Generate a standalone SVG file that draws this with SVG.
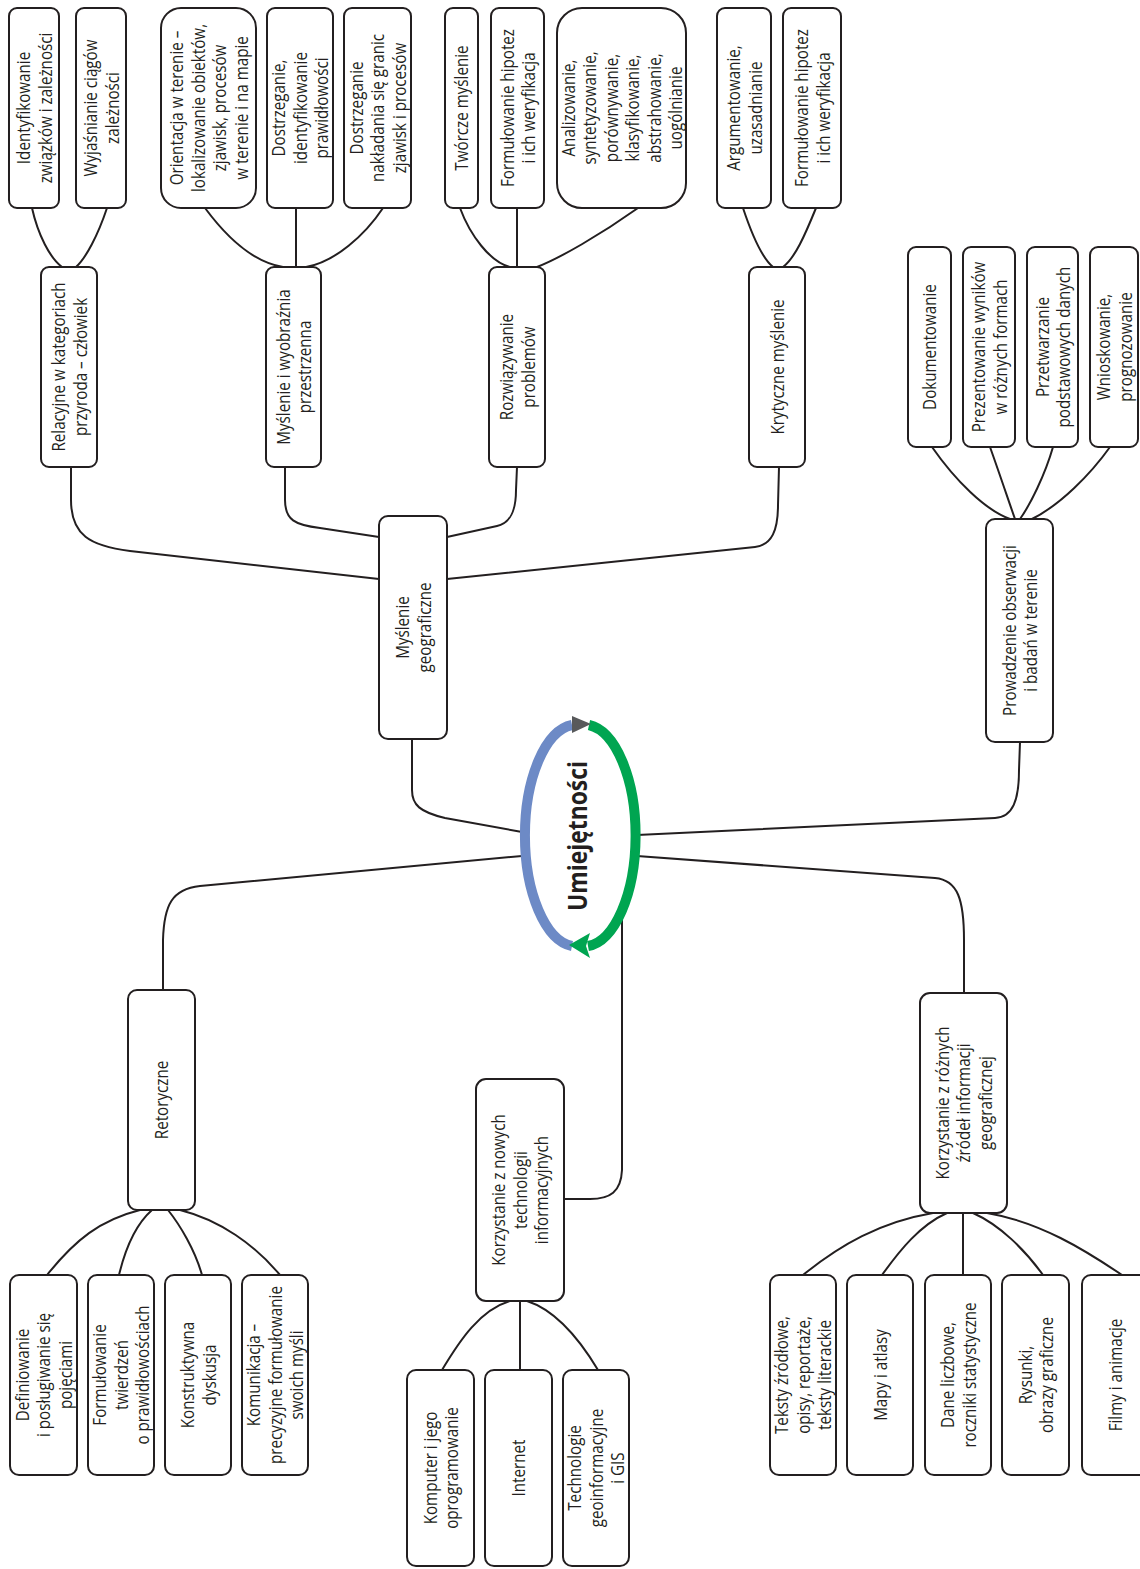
<svg xmlns="http://www.w3.org/2000/svg" width="1140" height="1569" viewBox="0 0 1140 1569">
  <style>
    .box { fill: #ffffff; stroke: #231f20; stroke-width: 2; }
    .link { fill: none; stroke: #231f20; stroke-width: 2; }
    .lbl { font-family: "Open Sans", "Noto Sans", "DejaVu Sans", sans-serif; font-size: 19px; fill: #231f20; text-anchor: middle; }
    .hub { font-family: "Open Sans", "Noto Sans", "DejaVu Sans", sans-serif; font-size: 26px; font-weight: bold; fill: #231f20; text-anchor: middle; }
  </style>
  <rect width="1140" height="1569" fill="#ffffff"/>

  <!-- connectors -->
  <g id="connectors">
    <!-- Relacyjne children -->
    <path class="link" d="M32,208 C38,235 50,258 62,267"/>
    <path class="link" d="M107,208 C98,235 86,258 76,267"/>
    <!-- Myślenie i wyobraźnia children -->
    <path class="link" d="M205,208 C225,235 252,262 283,267"/>
    <path class="link" d="M296,208 L296,267"/>
    <path class="link" d="M383,208 C365,235 335,262 306,267"/>
    <!-- Rozwiązywanie problemów children -->
    <path class="link" d="M460,208 C470,235 490,262 510,267"/>
    <path class="link" d="M517,208 L517,267"/>
    <path class="link" d="M638,208 C600,235 560,258 537,267"/>
    <!-- Krytyczne myślenie children -->
    <path class="link" d="M743,208 C752,235 762,258 773,267"/>
    <path class="link" d="M816,208 C805,235 795,258 783,267"/>
    <!-- Prowadzenie obserwacji children -->
    <path class="link" d="M932,447 C955,480 985,510 1010,519"/>
    <path class="link" d="M990,447 C1000,475 1010,505 1015,519"/>
    <path class="link" d="M1053,447 C1045,475 1030,505 1020,519"/>
    <path class="link" d="M1110,447 C1090,475 1060,505 1032,519"/>
    <!-- Retoryczne children -->
    <path class="link" d="M140,1210 C100,1220 75,1240 47,1275"/>
    <path class="link" d="M152,1210 C135,1225 125,1250 119,1275"/>
    <path class="link" d="M168,1210 C180,1225 195,1250 202,1275"/>
    <path class="link" d="M180,1210 C220,1220 255,1245 280,1275"/>
    <!-- Korzystanie z nowych technologii children -->
    <path class="link" d="M510,1301 C480,1310 460,1340 442,1370"/>
    <path class="link" d="M520,1301 L520,1370"/>
    <path class="link" d="M527,1301 C555,1310 580,1340 598,1370"/>
    <!-- Korzystanie z różnych źródeł children -->
    <path class="link" d="M933,1213 C880,1222 840,1245 803,1275"/>
    <path class="link" d="M947,1213 C920,1225 900,1250 882,1275"/>
    <path class="link" d="M963,1213 L963,1275"/>
    <path class="link" d="M973,1213 C1000,1225 1025,1250 1043,1275"/>
    <path class="link" d="M987,1213 C1040,1222 1085,1250 1122,1275"/>
    <!-- Myślenie geograficzne branches -->
    <path class="link" d="M71,467 L71,500 C71,535 90,546 130,551 L379,579"/>
    <path class="link" d="M285,467 L285,500 C285,520 295,525 320,528 L379,537"/>
    <path class="link" d="M447,537 L497,526 C510,523 516,512 516,490 L517,467"/>
    <path class="link" d="M447,579 L755,547 C772,545 778,530 778,505 L779,467"/>
    <!-- hub branches -->
    <path class="link" d="M412,739 L412,790 C412,805 420,812 445,818 L522,832"/>
    <path class="link" d="M522,856 L200,886 C172,889 164,905 163,940 L163,990"/>
    <path class="link" d="M637,835 L995,818 C1013,817 1019,800 1019,770 L1020,742"/>
    <path class="link" d="M637,856 L935,878 C958,880 964,900 964,940 L964,993"/>
    <path class="link" d="M622,910 L622,1170 C621,1192 610,1199 590,1199 L564,1199"/>
  </g>

  <!-- central hub -->
  <g id="hub-umiejetnosci">
    <path d="M572,946 A52,111 0 0 1 572,725" fill="none" stroke="#6d8ac6" stroke-width="10"/>
    <path d="M589,725 A52,111 0 0 1 588,946" fill="none" stroke="#00a551" stroke-width="10"/>
    <polygon points="572,716 572,733 591,724" fill="#58595b"/>
    <polygon points="569,945 590,933 586,946 590,958" fill="#00a551"/>
    <text class="hub" transform="translate(579.5,836) rotate(-90) scale(0.88,1)" y="7.5">Umiejętności</text>
  </g>

  <!-- Myślenie geograficzne -->
  <g id="n-myslenie">
    <rect class="box" x="379" y="516" width="68" height="223" rx="9"/>
    <text class="lbl" transform="translate(413,627.5) rotate(-90) scale(0.8,1)"><tspan x="0" y="-3.95">Myślenie</tspan><tspan x="0" y="17.55">geograficzne</tspan></text>
  </g>
  <g id="n-relacyjne">
    <rect class="box" x="41" y="267" width="56" height="200" rx="8"/>
    <text class="lbl" transform="translate(69,367) rotate(-90) scale(0.8,1)"><tspan x="0" y="-3.95">Relacyjne w kategoriach</tspan><tspan x="0" y="17.55">przyroda – człowiek</tspan></text>
  </g>
  <g id="n-identyfikowanie">
    <rect class="box" x="9" y="8" width="50" height="200" rx="8"/>
    <text class="lbl" transform="translate(34,108) rotate(-90) scale(0.8,1)"><tspan x="0" y="-3.95">Identyfikowanie</tspan><tspan x="0" y="17.55">związków i zależności</tspan></text>
  </g>
  <g id="n-wyjasnianie">
    <rect class="box" x="76" y="8" width="50" height="200" rx="8"/>
    <text class="lbl" transform="translate(101,108) rotate(-90) scale(0.8,1)"><tspan x="0" y="-3.95">Wyjaśnianie ciągów</tspan><tspan x="0" y="17.55">zależności</tspan></text>
  </g>
  <g id="n-wyobraznia">
    <rect class="box" x="266" y="267" width="55" height="200" rx="8"/>
    <text class="lbl" transform="translate(293.5,367) rotate(-90) scale(0.8,1)"><tspan x="0" y="-3.95">Myślenie i wyobraźnia</tspan><tspan x="0" y="17.55">przestrzenna</tspan></text>
  </g>
  <g id="n-orientacja">
    <rect class="box" x="161" y="8" width="95" height="200" rx="20"/>
    <text class="lbl" transform="translate(208.5,108) rotate(-90) scale(0.8,1)"><tspan x="0" y="-25.45">Orientacja w terenie –</tspan><tspan x="0" y="-3.95">lokalizowanie obiektów,</tspan><tspan x="0" y="17.55">zjawisk, procesów</tspan><tspan x="0" y="39.05">w terenie i na mapie</tspan></text>
  </g>
  <g id="n-prawidlowosci">
    <rect class="box" x="267" y="8" width="66" height="200" rx="8"/>
    <text class="lbl" transform="translate(300,108) rotate(-90) scale(0.8,1)"><tspan x="0" y="-14.7">Dostrzeganie,</tspan><tspan x="0" y="6.8">identyfikowanie</tspan><tspan x="0" y="28.3">prawidłowości</tspan></text>
  </g>
  <g id="n-granice">
    <rect class="box" x="344" y="8" width="67" height="200" rx="8"/>
    <text class="lbl" transform="translate(377.5,108) rotate(-90) scale(0.8,1)"><tspan x="0" y="-14.7">Dostrzeganie</tspan><tspan x="0" y="6.8">nakładania się granic</tspan><tspan x="0" y="28.3">zjawisk i procesów</tspan></text>
  </g>
  <g id="n-problemy">
    <rect class="box" x="489" y="267" width="56" height="200" rx="8"/>
    <text class="lbl" transform="translate(517,367) rotate(-90) scale(0.8,1)"><tspan x="0" y="-3.95">Rozwiązywanie</tspan><tspan x="0" y="17.55">problemów</tspan></text>
  </g>
  <g id="n-tworcze">
    <rect class="box" x="445" y="8" width="33" height="200" rx="8"/>
    <text class="lbl" transform="translate(461.5,108) rotate(-90) scale(0.8,1)" y="6.8">Twórcze myślenie</text>
  </g>
  <g id="n-hipotezy-1">
    <rect class="box" x="491" y="8" width="53" height="200" rx="8"/>
    <text class="lbl" transform="translate(517.5,108) rotate(-90) scale(0.8,1)"><tspan x="0" y="-3.95">Formułowanie hipotez</tspan><tspan x="0" y="17.55">i ich weryfikacja</tspan></text>
  </g>
  <g id="n-analizowanie">
    <rect class="box" x="557" y="8" width="129" height="200" rx="25"/>
    <text class="lbl" transform="translate(621.5,108) rotate(-90) scale(0.8,1)"><tspan x="0" y="-46.95">Analizowanie,</tspan><tspan x="0" y="-25.45">syntetyzowanie,</tspan><tspan x="0" y="-3.95">porównywanie,</tspan><tspan x="0" y="17.55">klasyfikowanie,</tspan><tspan x="0" y="39.05">abstrahowanie,</tspan><tspan x="0" y="60.55">uogólnianie</tspan></text>
  </g>
  <g id="n-krytyczne">
    <rect class="box" x="749" y="267" width="56" height="200" rx="8"/>
    <text class="lbl" transform="translate(777,367) rotate(-90) scale(0.8,1)" y="6.8">Krytyczne myślenie</text>
  </g>
  <g id="n-argumentowanie">
    <rect class="box" x="717" y="8" width="54" height="200" rx="8"/>
    <text class="lbl" transform="translate(744,108) rotate(-90) scale(0.8,1)"><tspan x="0" y="-3.95">Argumentowanie,</tspan><tspan x="0" y="17.55">uzasadnianie</tspan></text>
  </g>
  <g id="n-hipotezy-2">
    <rect class="box" x="783" y="8" width="58" height="200" rx="8"/>
    <text class="lbl" transform="translate(812,108) rotate(-90) scale(0.8,1)"><tspan x="0" y="-3.95">Formułowanie hipotez</tspan><tspan x="0" y="17.55">i ich weryfikacja</tspan></text>
  </g>

  <!-- Prowadzenie obserwacji -->
  <g id="n-prowadzenie">
    <rect class="box" x="986" y="519" width="67" height="223" rx="9"/>
    <text class="lbl" transform="translate(1019.5,630.5) rotate(-90) scale(0.8,1)"><tspan x="0" y="-3.95">Prowadzenie obserwacji</tspan><tspan x="0" y="17.55">i badań w terenie</tspan></text>
  </g>
  <g id="n-dokumentowanie">
    <rect class="box" x="908" y="247" width="43" height="200" rx="8"/>
    <text class="lbl" transform="translate(929.5,347) rotate(-90) scale(0.8,1)" y="6.8">Dokumentowanie</text>
  </g>
  <g id="n-prezentowanie">
    <rect class="box" x="963" y="247" width="52" height="200" rx="8"/>
    <text class="lbl" transform="translate(989,347) rotate(-90) scale(0.8,1)"><tspan x="0" y="-3.95">Prezentowanie wyników</tspan><tspan x="0" y="17.55">w różnych formach</tspan></text>
  </g>
  <g id="n-przetwarzanie">
    <rect class="box" x="1027" y="247" width="51" height="200" rx="8"/>
    <text class="lbl" transform="translate(1052.5,347) rotate(-90) scale(0.8,1)"><tspan x="0" y="-3.95">Przetwarzanie</tspan><tspan x="0" y="17.55">podstawowych danych</tspan></text>
  </g>
  <g id="n-wnioskowanie">
    <rect class="box" x="1090" y="247" width="48" height="200" rx="8"/>
    <text class="lbl" transform="translate(1114,347) rotate(-90) scale(0.8,1)"><tspan x="0" y="-3.95">Wnioskowanie,</tspan><tspan x="0" y="17.55">prognozowanie</tspan></text>
  </g>

  <!-- Retoryczne -->
  <g id="n-retoryczne">
    <rect class="box" x="128" y="990" width="67" height="220" rx="9"/>
    <text class="lbl" transform="translate(161.5,1100) rotate(-90) scale(0.8,1)" y="6.8">Retoryczne</text>
  </g>
  <g id="n-definiowanie">
    <rect class="box" x="10" y="1275" width="67" height="200" rx="9"/>
    <text class="lbl" transform="translate(43.5,1375) rotate(-90) scale(0.8,1)"><tspan x="0" y="-14.7">Definiowanie</tspan><tspan x="0" y="6.8">i posługiwanie się</tspan><tspan x="0" y="28.3">pojęciami</tspan></text>
  </g>
  <g id="n-twierdzenia">
    <rect class="box" x="88" y="1275" width="66" height="200" rx="9"/>
    <text class="lbl" transform="translate(121,1375) rotate(-90) scale(0.8,1)"><tspan x="0" y="-14.7">Formułowanie</tspan><tspan x="0" y="6.8">twierdzeń</tspan><tspan x="0" y="28.3">o prawidłowościach</tspan></text>
  </g>
  <g id="n-dyskusja">
    <rect class="box" x="165" y="1275" width="66" height="200" rx="9"/>
    <text class="lbl" transform="translate(198,1375) rotate(-90) scale(0.8,1)"><tspan x="0" y="-3.95">Konstruktywna</tspan><tspan x="0" y="17.55">dyskusja</tspan></text>
  </g>
  <g id="n-komunikacja">
    <rect class="box" x="242" y="1275" width="66" height="200" rx="9"/>
    <text class="lbl" transform="translate(275,1375) rotate(-90) scale(0.8,1)"><tspan x="0" y="-14.7">Komunikacja –</tspan><tspan x="0" y="6.8">precyzyjne formułowanie</tspan><tspan x="0" y="28.3">swoich myśli</tspan></text>
  </g>

  <!-- Korzystanie z nowych technologii -->
  <g id="n-technologie">
    <rect class="box" x="476" y="1079" width="88" height="222" rx="10"/>
    <text class="lbl" transform="translate(520,1190) rotate(-90) scale(0.8,1)"><tspan x="0" y="-14.7">Korzystanie z nowych</tspan><tspan x="0" y="6.8">technologii</tspan><tspan x="0" y="28.3">informacyjnych</tspan></text>
  </g>
  <g id="n-komputer">
    <rect class="box" x="407" y="1370" width="67" height="196" rx="9"/>
    <text class="lbl" transform="translate(440.5,1468) rotate(-90) scale(0.8,1)"><tspan x="0" y="-3.95">Komputer i jego</tspan><tspan x="0" y="17.55">oprogramowanie</tspan></text>
  </g>
  <g id="n-internet">
    <rect class="box" x="485" y="1370" width="67" height="196" rx="9"/>
    <text class="lbl" transform="translate(518.5,1468) rotate(-90) scale(0.8,1)" y="6.8">Internet</text>
  </g>
  <g id="n-gis">
    <rect class="box" x="563" y="1370" width="66" height="196" rx="9"/>
    <text class="lbl" transform="translate(596,1468) rotate(-90) scale(0.8,1)"><tspan x="0" y="-14.7">Technologie</tspan><tspan x="0" y="6.8">geoinformacyjne</tspan><tspan x="0" y="28.3">i GIS</tspan></text>
  </g>

  <!-- Korzystanie z różnych źródeł -->
  <g id="n-zrodla">
    <rect class="box" x="920" y="993" width="87" height="220" rx="10"/>
    <text class="lbl" transform="translate(963.5,1103) rotate(-90) scale(0.8,1)"><tspan x="0" y="-14.7">Korzystanie z różnych</tspan><tspan x="0" y="6.8">źródeł informacji</tspan><tspan x="0" y="28.3">geograficznej</tspan></text>
  </g>
  <g id="n-teksty">
    <rect class="box" x="770" y="1275" width="66" height="200" rx="9"/>
    <text class="lbl" transform="translate(803,1375) rotate(-90) scale(0.8,1)"><tspan x="0" y="-14.7">Teksty źródłowe,</tspan><tspan x="0" y="6.8">opisy, reportaże,</tspan><tspan x="0" y="28.3">teksty literackie</tspan></text>
  </g>
  <g id="n-mapy">
    <rect class="box" x="847" y="1275" width="66" height="200" rx="9"/>
    <text class="lbl" transform="translate(880,1375) rotate(-90) scale(0.8,1)" y="6.8">Mapy i atlasy</text>
  </g>
  <g id="n-dane">
    <rect class="box" x="925" y="1275" width="66" height="200" rx="9"/>
    <text class="lbl" transform="translate(958,1375) rotate(-90) scale(0.8,1)"><tspan x="0" y="-3.95">Dane liczbowe,</tspan><tspan x="0" y="17.55">roczniki statystyczne</tspan></text>
  </g>
  <g id="n-rysunki">
    <rect class="box" x="1002" y="1275" width="67" height="200" rx="9"/>
    <text class="lbl" transform="translate(1035.5,1375) rotate(-90) scale(0.8,1)"><tspan x="0" y="-3.95">Rysunki,</tspan><tspan x="0" y="17.55">obrazy graficzne</tspan></text>
  </g>
  <g id="n-filmy">
    <rect class="box" x="1082" y="1275" width="66" height="200" rx="9"/>
    <text class="lbl" transform="translate(1115,1375) rotate(-90) scale(0.8,1)" y="6.8">Filmy i animacje</text>
  </g>
</svg>
